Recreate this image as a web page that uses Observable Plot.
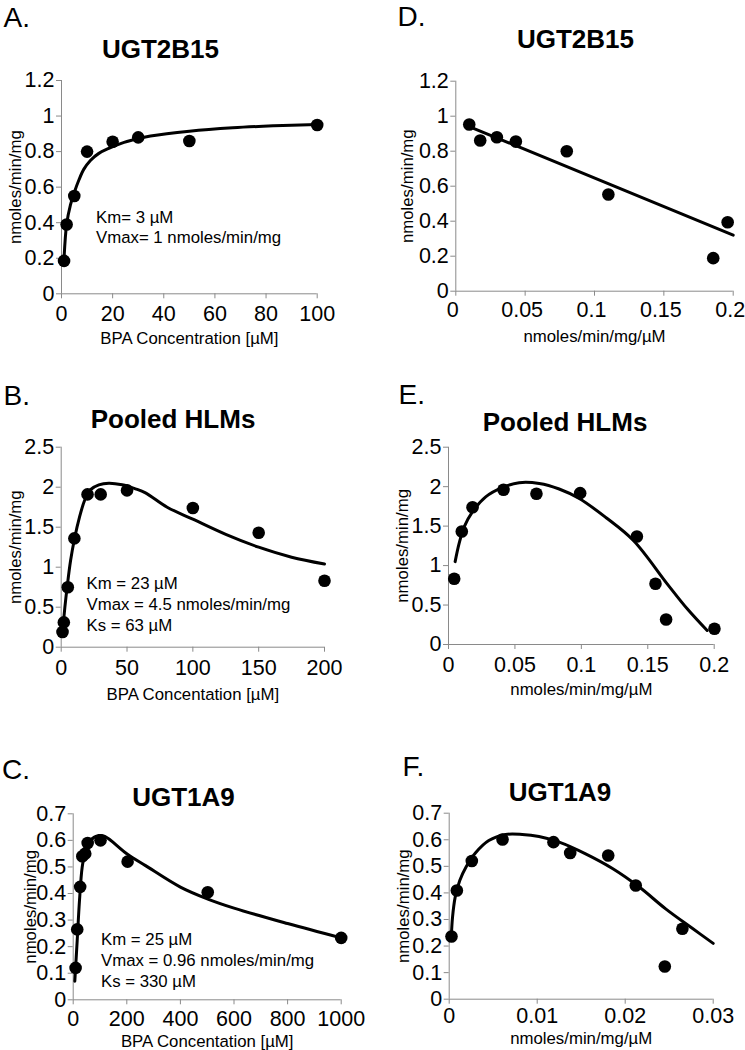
<!DOCTYPE html>
<html>
<head>
<meta charset="utf-8">
<script src="https://cdn.jsdelivr.net/npm/d3@7"></script>
<script src="https://cdn.jsdelivr.net/npm/@observablehq/plot@0.6"></script>
<style>
  html, body { margin: 0; padding: 0; background: #fff; }
  #page { position: relative; width: 745px; height: 1050px; overflow: hidden; background: #fff; }
  #page svg { position: absolute; left: 0; top: 0; }
</style>
</head>
<body>
<div id="page"></div>
<script>
// ---------- DATA ----------
// Panel A: UGT2B15, rate vs BPA concentration
const concA = [1, 2, 5, 10, 20, 30, 50, 100];
const rateA = [0.185, 0.39, 0.55, 0.80, 0.855, 0.88, 0.86, 0.95];
const fitConcA = [1, 2, 3.5, 5, 6.8, 8.7, 11.3, 14.6, 18.5, 23.1, 29.6, 34.8, 50, 67, 83, 100];
const fitRateA = [0.2, 0.39, 0.5, 0.57, 0.64, 0.70, 0.75, 0.79, 0.818, 0.845, 0.872, 0.888, 0.915, 0.934, 0.945, 0.953];

// Panel D: UGT2B15, Eadie-Hofstee
const ratioD = [0.0097, 0.0176, 0.0296, 0.0433, 0.080, 0.110, 0.1856, 0.196];
const rateD = [0.953, 0.861, 0.88, 0.855, 0.80, 0.553, 0.189, 0.394];
const fitRatioD = [0.0097, 0.2];
const fitRateD = [0.941, 0.32];

// Panel B: Pooled HLMs, rate vs BPA concentration
const concB = [1, 2, 5, 10, 20, 30, 50, 100, 150, 200];
const rateB = [0.19, 0.31, 0.75, 1.36, 1.91, 1.91, 1.96, 1.74, 1.43, 0.83];
const fitConcB = [1, 2.8, 4.5, 7.1, 10.1, 13.9, 17.9, 22.3, 28.6, 36.2, 46.3, 56.4, 64, 80.5, 100, 125, 150, 175, 200];
const fitRateB = [0.19, 0.5, 0.75, 1.08, 1.355, 1.625, 1.84, 1.97, 2.03, 2.05, 2.03, 1.98, 1.93, 1.75, 1.60, 1.41, 1.25, 1.125, 1.04];

// Panel E: Pooled HLMs, Eadie-Hofstee
const ratioE = [0.0043, 0.0100, 0.0181, 0.0414, 0.0662, 0.0991, 0.1418, 0.1558, 0.1638, 0.2002];
const rateE = [0.833, 1.432, 1.74, 1.96, 1.91, 1.918, 1.369, 0.769, 0.317, 0.199];
const fitRatioE = [0.005, 0.008, 0.0118, 0.018, 0.028, 0.0407, 0.0532, 0.0683, 0.0833, 0.0984, 0.1184, 0.1392, 0.1646, 0.1797, 0.1947];
const fitRateE = [1.05, 1.28, 1.49, 1.68, 1.87, 1.99, 2.05, 2.04, 1.97, 1.85, 1.61, 1.318, 0.769, 0.452, 0.177];

// Panel C: UGT1A9, rate vs BPA concentration
const concC = [9, 15, 26, 34, 45, 54, 102, 203, 502, 1000];
const rateC = [0.12, 0.265, 0.425, 0.54, 0.55, 0.59, 0.60, 0.52, 0.405, 0.233];
const fitConcC = [6, 14.9, 23.5, 33.5, 45.9, 64.6, 95.6, 118, 200, 270, 400, 500, 600, 800, 1000];
const fitRateC = [0.07, 0.223, 0.374, 0.499, 0.562, 0.60, 0.618, 0.615, 0.55, 0.505, 0.424, 0.38, 0.345, 0.287, 0.233];

// Panel F: UGT1A9, Eadie-Hofstee
const ratioF = [0.00026, 0.00087, 0.00257, 0.00606, 0.01185, 0.01375, 0.01807, 0.0212, 0.0245, 0.0265];
const rateF = [0.236, 0.409, 0.52, 0.601, 0.591, 0.55, 0.541, 0.428, 0.123, 0.265];
const fitRatioF = [0.00024, 0.00038, 0.00068, 0.0012, 0.0019, 0.003, 0.0045, 0.0064, 0.0083, 0.0102, 0.0125, 0.0155, 0.0186, 0.0216, 0.0246, 0.0277, 0.0300];
const fitRateF = [0.235, 0.309, 0.384, 0.447, 0.497, 0.551, 0.597, 0.62, 0.62, 0.612, 0.591, 0.547, 0.491, 0.422, 0.34, 0.265, 0.21];

// Tick values
const ticksX_A = [0, 20, 40, 60, 80, 100];
const ticksY_A = [0, 0.2, 0.4, 0.6, 0.8, 1, 1.2];
const ticksX_D = [0, 0.05, 0.1, 0.15, 0.2];
const ticksX_B = [0, 50, 100, 150, 200];
const ticksY_B = [0, 0.5, 1, 1.5, 2, 2.5];
const ticksX_E = [0, 0.05, 0.1, 0.15, 0.2];
const ticksX_C = [0, 200, 400, 600, 800, 1000];
const ticksY_C = [0, 0.1, 0.2, 0.3, 0.4, 0.5, 0.6, 0.7];
const ticksX_F = [0, 0.01, 0.02, 0.03];

// Texts
const letters = ["A.", "B.", "C.", "D.", "E.", "F."];
const titles = ["UGT2B15", "Pooled HLMs", "UGT1A9", "UGT2B15", "Pooled HLMs", "UGT1A9"];
const xLabels = ["BPA Concentration [µM]", "BPA Concentation [µM]", "BPA Concentation [µM]",
                 "nmoles/min/mg/µM", "nmoles/min/mg/µM", "nmoles/min/mg/µM"];
const yLabel = "nmoles/min/mg";
const notesA = ["Km= 3 µM", "Vmax= 1 nmoles/min/mg"];
const notesB = ["Km = 23 µM", "Vmax = 4.5 nmoles/min/mg", "Ks = 63 µM"];
const notesC = ["Km = 25 µM", "Vmax = 0.96 nmoles/min/mg", "Ks = 330 µM"];

// ---------- LAYOUT (page pixel geometry) ----------
const W = 745, H = 1050;
const gray = "#8a8a8a";
const FONT = "'Liberation Sans', Arial, Helvetica, sans-serif";

const panels = [
  {letter: letters[0], title: titles[0], xLabel: xLabels[0], px: concA, py: rateA, fx: fitConcA, fy: fitRateA,
   xTicks: ticksX_A, yTicks: ticksY_A, notes: notesA,
   frame: [61, 316.7, 80, 293.3], letterPos: [3, 26], titlePos: [160, 57], yLabelX: 15, xLabelBase: 343,
   tickPad: 6.7, tickDx: 0, notePos: [95.5, 221, 19.5]},
  {letter: letters[1], title: titles[1], xLabel: xLabels[1], px: concB, py: rateB, fx: fitConcB, fy: fitRateB,
   xTicks: ticksX_B, yTicks: ticksY_B, notes: notesB,
   frame: [60.7, 324, 446.7, 646.7], letterPos: [3, 404], titlePos: [172.5, 427], yLabelX: 15, xLabelBase: 699,
   tickPad: 7.7, tickDx: 0, notePos: [86, 585, 21.3]},
  {letter: letters[2], title: titles[2], xLabel: xLabels[2], px: concC, py: rateC, fx: fitConcC, fy: fitRateC,
   xTicks: ticksX_C, yTicks: ticksY_C, notes: notesC,
   frame: [72.7, 340.7, 813.3, 999.3], letterPos: [1.5, 778], titlePos: [183, 805], yLabelX: 30, xLabelBase: 1046,
   tickPad: 5.7, tickDx: 0, notePos: [100.5, 941.7, 20.8]},
  {letter: letters[3], title: titles[3], xLabel: xLabels[3], px: ratioD, py: rateD, fx: fitRatioD, fy: fitRateD,
   xTicks: ticksX_D, yTicks: ticksY_A,
   frame: [455.3, 732.7, 80.7, 290.7], letterPos: [397, 26], titlePos: [575, 48], yLabelX: 407, xLabelBase: 341,
   tickPad: 5.7, tickDx: -3},
  {letter: letters[4], title: titles[4], xLabel: xLabels[4], px: ratioE, py: rateE, fx: fitRatioE, fy: fitRateE,
   xTicks: ticksX_E, yTicks: ticksY_B,
   frame: [448, 713.7, 446.7, 644], letterPos: [398, 403], titlePos: [564.5, 430], yLabelX: 402, xLabelBase: 694,
   tickPad: 7.7, tickDx: 0},
  {letter: letters[5], title: titles[5], xLabel: xLabels[5], px: ratioF, py: rateF, fx: fitRatioF, fy: fitRateF,
   xTicks: ticksX_F, yTicks: ticksY_C,
   frame: [448.7, 712.7, 812.7, 998.7], letterPos: [402, 775], titlePos: [559.5, 800], yLabelX: 403, xLabelBase: 1043,
   tickPad: 3.7, tickDx: 0}
];

const TICK_FS = 21.5, LABEL_FS = 16.8, NOTE_FS = 16.8, TITLE_FS = 26, LETTER_FS = 28;

function makePanel(p) {
  const [x0, x1, y0, y1] = p.frame;
  const pts = p.px.map((x, i) => ({x, y: p.py[i]}));
  const fit = p.fx.map((x, i) => ({x, y: p.fy[i]}));
  const fmt = d => `${d}`;
  const marks = [
    Plot.ruleY([p.yTicks[0]], {stroke: gray, strokeWidth: 1}),
    Plot.ruleX([p.xTicks[0]], {stroke: gray, strokeWidth: 1}),
    // x tick marks (no text)
    Plot.axisX({ticks: p.xTicks, tickFormat: () => "", tickSize: 5, stroke: gray, label: null}),
    // x tick labels (optionally nudged so the last one stays inside the page)
    Plot.axisX({ticks: p.xTicks, tickFormat: fmt, tickSize: 0, tickPadding: p.tickPad + 5, dx: p.tickDx,
                color: "#000", label: null, fontSize: TICK_FS}),
    Plot.axisY({ticks: p.yTicks, tickFormat: fmt, tickSize: 5, tickPadding: 2,
                stroke: gray, color: "#000", label: null, fontSize: TICK_FS}),
    Plot.line(fit, {x: "x", y: "y", stroke: "#000", strokeWidth: 3, curve: "catmull-rom"}),
    Plot.dot(pts, {x: "x", y: "y", r: 6.3, fill: "#000", stroke: "none"}),
    Plot.text([p.letter], {text: d => d, frameAnchor: "top-left", dx: p.letterPos[0] - x0, dy: p.letterPos[1] - y0,
                           textAnchor: "start", lineAnchor: "bottom", fontSize: LETTER_FS, fill: "#000"}),
    Plot.text([p.title], {text: d => d, frameAnchor: "top-left", dx: p.titlePos[0] - x0, dy: p.titlePos[1] - y0,
                          textAnchor: "middle", lineAnchor: "bottom", fontSize: TITLE_FS, fontWeight: "bold", fill: "#000"}),
    Plot.text([p.xLabel], {text: d => d, frameAnchor: "bottom", dy: p.xLabelBase - y1,
                           textAnchor: "middle", lineAnchor: "bottom", fontSize: LABEL_FS, fill: "#000"}),
    Plot.text([yLabel], {text: d => d, frameAnchor: "left", dx: p.yLabelX - x0, rotate: -90,
                         textAnchor: "middle", lineAnchor: "middle", fontSize: LABEL_FS, fill: "#000"})
  ];
  if (p.notes) {
    const [nx, nb, step] = p.notePos;
    marks.push(Plot.text([p.notes.join("\n")], {text: d => d, frameAnchor: "top-left",
      dx: nx - x0, dy: nb - 0.71 * NOTE_FS - y0, textAnchor: "start", lineAnchor: "top",
      lineHeight: step / NOTE_FS, fontSize: NOTE_FS, fill: "#000"}));
  }
  return Plot.plot({
    width: W, height: H,
    marginLeft: x0, marginRight: W - x1, marginTop: y0, marginBottom: H - y1,
    x: {domain: [p.xTicks[0], p.xTicks[p.xTicks.length - 1]]},
    y: {domain: [p.yTicks[0], p.yTicks[p.yTicks.length - 1]]},
    style: {fontFamily: FONT, fontSize: `${TICK_FS}px`, color: "#000", background: "transparent", overflow: "visible"},
    marks
  });
}

const page = document.getElementById("page");
for (const p of panels) page.appendChild(makePanel(p));
</script>
</body>
</html>
